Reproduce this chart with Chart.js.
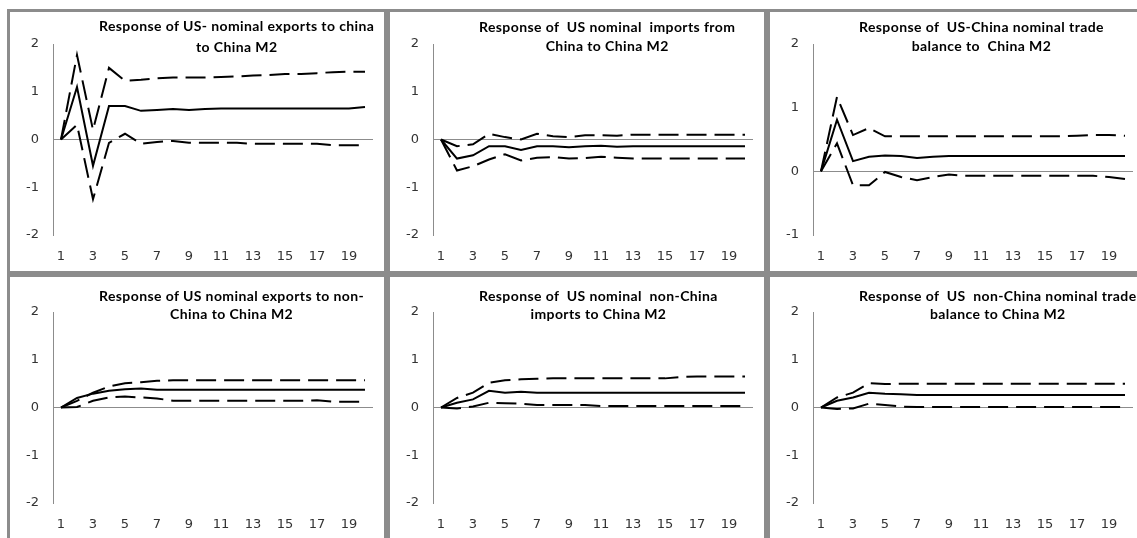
<!DOCTYPE html>
<html>
<head>
<meta charset="utf-8">
<script src="https://cdn.jsdelivr.net/npm/chart.js@4.4.0/dist/chart.umd.min.js"></script>
<style>
  html, body { margin: 0; padding: 0; background: #fff; }
  body { width: 1137px; height: 538px; overflow: hidden; position: relative; }
  .panel { position: absolute; width: 380px; box-sizing: border-box; border: 3px solid #8c8c8c; background: #fff; }
  .panel canvas { position: absolute; left: 0; top: 0; }
  .title { position: absolute; left: 89px; white-space: pre; text-align: center;
           font: bold 14px Lato, "Open Sans", sans-serif; letter-spacing: 0.4px; color: #000; }
</style>
</head>
<body>
<script>
// ---- data ----
const categories = ['1','2','3','4','5','6','7','8','9','10','11','12','13','14','15','16','17','18','19','20'];

const titles1 = ['Response of US- nominal exports to china', 'to China M2'];
const titles2 = ['Response of  US nominal  imports from', 'China to China M2'];
const titles3 = ['Response of  US-China nominal trade', 'balance to  China M2'];
const titles4 = ['Response of US nominal exports to non-', 'China to China M2'];
const titles5 = ['Response of  US nominal  non-China', 'imports to China M2'];
const titles6 = ['Response of  US  non-China nominal trade', 'balance to China M2'];

const p1Mid = [0, 1.1, -0.55, 0.7, 0.7, 0.6, 0.62, 0.64, 0.62, 0.64, 0.65, 0.65, 0.65, 0.65, 0.65, 0.65, 0.65, 0.65, 0.65, 0.68];
const p1Up  = [0, 1.77, 0.2, 1.5, 1.23, 1.25, 1.28, 1.3, 1.3, 1.3, 1.31, 1.32, 1.34, 1.35, 1.37, 1.37, 1.39, 1.41, 1.42, 1.42];
const p1Lo  = [0, 0.31, -1.25, -0.07, 0.12, -0.09, -0.05, -0.03, -0.07, -0.07, -0.07, -0.07, -0.09, -0.09, -0.09, -0.09, -0.09, -0.12, -0.12, -0.12];

const p2Mid = [0, -0.4, -0.33, -0.14, -0.14, -0.22, -0.14, -0.14, -0.16, -0.14, -0.13, -0.15, -0.14, -0.14, -0.14, -0.14, -0.14, -0.14, -0.14, -0.14];
const p2Up  = [0, -0.14, -0.1, 0.12, 0.05, 0, 0.12, 0.07, 0.05, 0.09, 0.09, 0.08, 0.1, 0.1, 0.1, 0.1, 0.1, 0.1, 0.1, 0.1];
const p2Lo  = [0, -0.65, -0.56, -0.42, -0.31, -0.44, -0.38, -0.37, -0.4, -0.39, -0.36, -0.38, -0.4, -0.4, -0.4, -0.4, -0.4, -0.4, -0.4, -0.4];

const p3Mid = [0, 0.81, 0.16, 0.23, 0.25, 0.24, 0.21, 0.23, 0.24, 0.24, 0.24, 0.24, 0.24, 0.24, 0.24, 0.24, 0.24, 0.24, 0.24, 0.24];
const p3Up  = [0, 1.17, 0.57, 0.68, 0.55, 0.55, 0.55, 0.55, 0.55, 0.55, 0.55, 0.55, 0.55, 0.55, 0.55, 0.55, 0.56, 0.57, 0.57, 0.56];
const p3Lo  = [0, 0.44, -0.22, -0.22, -0.01, -0.09, -0.14, -0.09, -0.05, -0.07, -0.07, -0.07, -0.07, -0.07, -0.07, -0.07, -0.07, -0.07, -0.09, -0.12];

const p4Mid = [0, 0.2, 0.29, 0.35, 0.38, 0.4, 0.37, 0.37, 0.37, 0.37, 0.37, 0.37, 0.37, 0.37, 0.37, 0.37, 0.37, 0.37, 0.37, 0.37];
const p4Up  = [0, 0.14, 0.31, 0.44, 0.51, 0.53, 0.56, 0.57, 0.57, 0.57, 0.57, 0.57, 0.57, 0.57, 0.57, 0.57, 0.57, 0.57, 0.57, 0.57];
const p4Lo  = [0, 0.01, 0.14, 0.21, 0.23, 0.21, 0.19, 0.14, 0.14, 0.14, 0.14, 0.14, 0.14, 0.14, 0.14, 0.14, 0.15, 0.12, 0.12, 0.12];

const p5Mid = [0, 0.1, 0.17, 0.35, 0.31, 0.33, 0.31, 0.31, 0.31, 0.31, 0.31, 0.31, 0.31, 0.31, 0.31, 0.31, 0.31, 0.31, 0.31, 0.31];
const p5Up  = [0, 0.2, 0.31, 0.52, 0.57, 0.59, 0.6, 0.61, 0.61, 0.61, 0.61, 0.61, 0.61, 0.61, 0.61, 0.64, 0.65, 0.65, 0.65, 0.65];
const p5Lo  = [0, -0.02, 0.02, 0.1, 0.09, 0.08, 0.05, 0.05, 0.05, 0.05, 0.03, 0.03, 0.03, 0.03, 0.03, 0.03, 0.03, 0.03, 0.03, 0.03];

const p6Mid = [0, 0.14, 0.21, 0.31, 0.29, 0.28, 0.26, 0.26, 0.26, 0.26, 0.26, 0.26, 0.26, 0.26, 0.26, 0.26, 0.26, 0.26, 0.26, 0.26];
const p6Up  = [0, 0.21, 0.31, 0.51, 0.49, 0.5, 0.5, 0.5, 0.5, 0.5, 0.5, 0.5, 0.5, 0.5, 0.5, 0.5, 0.5, 0.5, 0.5, 0.5];
const p6Lo  = [0, -0.03, -0.02, 0.08, 0.05, 0.02, 0.01, 0.01, 0.01, 0.01, 0.01, 0.01, 0.01, 0.01, 0.01, 0.01, 0.01, 0.01, 0.01, 0.01];

const yMin1 = -2, yMax1 = 2, yMin3 = -1;

// ---- layout ----
const panels = [
  { left: 7,   top: 9,   h: 265, titles: titles1, mid: p1Mid, up: p1Up, lo: p1Lo, min: yMin1, max: yMax1, padTop: 32, tTop: 3, lh: 21 },
  { left: 387, top: 9,   h: 265, titles: titles2, mid: p2Mid, up: p2Up, lo: p2Lo, min: yMin1, max: yMax1, padTop: 32, tTop: 5, lh: 19 },
  { left: 767, top: 9,   h: 265, titles: titles3, mid: p3Mid, up: p3Up, lo: p3Lo, min: yMin3, max: yMax1, padTop: 32, tTop: 5, lh: 19 },
  { left: 7,   top: 274, h: 268, titles: titles4, mid: p4Mid, up: p4Up, lo: p4Lo, min: yMin1, max: yMax1, padTop: 35, tTop: 10, lh: 18 },
  { left: 387, top: 274, h: 268, titles: titles5, mid: p5Mid, up: p5Up, lo: p5Lo, min: yMin1, max: yMax1, padTop: 35, tTop: 10, lh: 18 },
  { left: 767, top: 274, h: 268, titles: titles6, mid: p6Mid, up: p6Up, lo: p6Lo, min: yMin1, max: yMax1, padTop: 35, tTop: 10, lh: 18 },
];

panels.forEach((p, i) => {
  const div = document.createElement('div');
  div.className = 'panel';
  div.style.left = p.left + 'px';
  div.style.top = p.top + 'px';
  div.style.height = p.h + 'px';
  document.body.appendChild(div);
  const innerW = 374, innerH = p.h - 6;
  const cv = document.createElement('canvas');
  cv.width = innerW; cv.height = innerH;
  cv.style.width = innerW + 'px'; cv.style.height = innerH + 'px';
  div.appendChild(cv);
  const t = document.createElement('div');
  t.className = 'title';
  t.style.top = p.tTop + 'px';
  t.style.lineHeight = p.lh + 'px';
  t.textContent = p.titles.join('\n');
  div.appendChild(t);

  const lineDs = (data, dashed) => ({
    data, borderColor: '#000', borderWidth: 2, pointRadius: 0, tension: 0,
    borderDash: dashed ? [20, 8] : [], fill: false, clip: false
  });

  new Chart(cv, {
    type: 'line',
    data: { labels: categories, datasets: [lineDs(p.up, true), lineDs(p.mid, false), lineDs(p.lo, true)] },
    options: {
      responsive: false, animation: false,
      layout: { padding: { top: p.padTop, right: 11, left: 0, bottom: 0 } },
      plugins: { legend: { display: false }, tooltip: { enabled: false }, title: { display: false } },
      scales: {
        x: {
          offset: true,
          grid: { display: false, drawTicks: false },
          border: { display: false },
          ticks: {
            autoSkip: false, maxRotation: 0, padding: 14, color: '#333',
            font: { family: 'DejaVu Sans', size: 13 },
            callback: function(v, idx) { return idx % 2 === 0 ? this.getLabelForValue(v) : ''; }
          },
          afterFit: s => { s.height = 36; }
        },
        y: {
          min: p.min, max: p.max,
          grid: { drawTicks: false, lineWidth: 1,
                  color: c => (c.tick && c.tick.value === 0) ? '#8c8c8c' : 'rgba(0,0,0,0)' },
          border: { display: true, color: '#8c8c8c', width: 1 },
          ticks: { stepSize: 1, padding: 14, color: '#333', font: { family: 'DejaVu Sans', size: 13 } },
          afterFit: s => { s.width = 43; }
        }
      }
    }
  });
});
</script>
</body>
</html>
